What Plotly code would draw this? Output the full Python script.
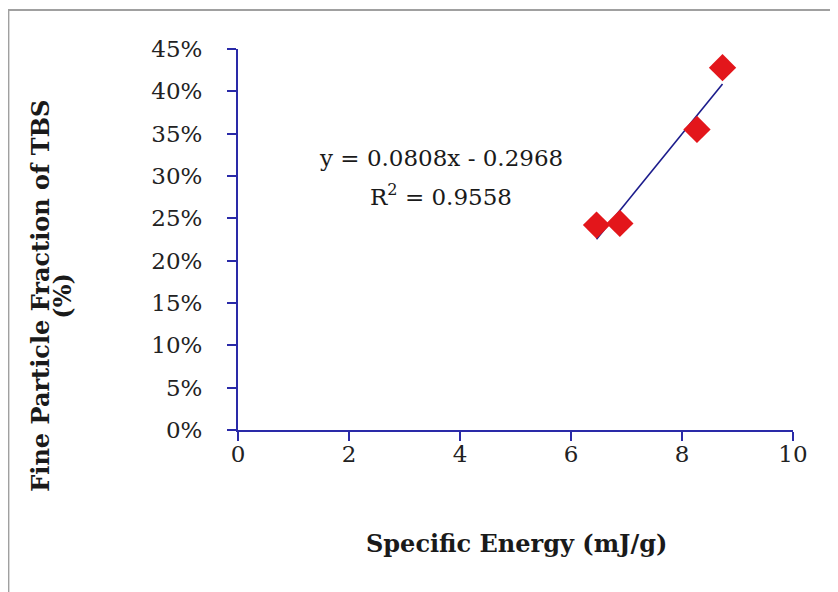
import plotly.graph_objects as go

# Data
specific_energy = [6.46, 6.88, 8.27, 8.73]          # mJ/g
fine_fraction = [0.242, 0.244, 0.355, 0.428]        # fraction
trend_slope = 0.0808
trend_intercept = -0.2968
r_squared = 0.9558

x_ticks = [0, 2, 4, 6, 8, 10]
y_ticks = [0, 0.05, 0.10, 0.15, 0.20, 0.25, 0.30, 0.35, 0.40, 0.45]

AXIS = "#2a2aa8"
FONT = "DejaVu Serif"

trend_x = [min(specific_energy), max(specific_energy)]
trend_y = [trend_slope * v + trend_intercept for v in trend_x]

fig = go.Figure()
fig.add_trace(go.Scatter(
    x=trend_x, y=trend_y, mode="lines",
    line=dict(color="#1c1c8c", width=1.6),
    hoverinfo="skip", showlegend=False,
))
fig.add_trace(go.Scatter(
    x=specific_energy, y=fine_fraction, mode="markers",
    marker=dict(symbol="diamond", size=21, color="#e3161b",
                line=dict(width=0)),
    showlegend=False,
))

axis_common = dict(
    showline=True, linecolor=AXIS, linewidth=2,
    ticks="outside", ticklen=9, tickwidth=2, tickcolor=AXIS,
    showgrid=False, zeroline=False,
    tickfont=dict(family=FONT, size=23, color="#222222"),
)

fig.update_xaxes(range=[0, 10], tickvals=x_ticks,
                 ticktext=[str(v) for v in x_ticks],
                 ticklabelstandoff=-7, **axis_common)
fig.update_yaxes(range=[0, 0.45], tickvals=y_ticks,
                 ticktext=[f"{round(v*100)}%" for v in y_ticks],
                 ticklabelstandoff=20, **axis_common)

annos = [
    dict(text="<b>Specific Energy (mJ/g)</b>", x=0.501, y=-0.298,
         size=24),
    dict(text="<b>Fine Particle Fraction of TBS</b>", x=-0.356, y=0.3535,
         size=24, angle=-90),
    dict(text="<b>(%)</b>", x=-0.3164, y=0.3535, size=24, angle=-90),
    dict(text=f"y = {trend_slope}x - {abs(trend_intercept)}", x=0.366,
         y=0.7135, size=23),
    dict(text=f"R<sup>2</sup> = {r_squared}", x=0.366, y=0.616, size=23),
]
for a in annos:
    fig.add_annotation(
        text=a["text"], x=a["x"], y=a["y"], xref="paper", yref="paper",
        xanchor="center", yanchor="middle", showarrow=False,
        textangle=a.get("angle", 0),
        font=dict(family=FONT, size=a["size"], color="#1a1a1a"),
    )

# Outer chart border (top and left visible)
fig.add_shape(type="rect", xref="paper", yref="paper",
              x0=-0.4137, x1=1.5, y0=-1.0, y1=1.1025,
              line=dict(color="#a0a0a0", width=2), layer="below")

fig.update_layout(
    width=838, height=592,
    margin=dict(l=230, r=53, t=41, b=170),
    paper_bgcolor="white", plot_bgcolor="white",
    font=dict(family=FONT),
)

fig.write_html("out.html")
